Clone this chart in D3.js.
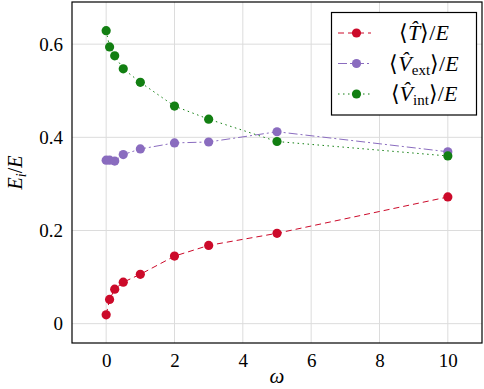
<!DOCTYPE html>
<html>
<head>
<meta charset="utf-8">
<script src="https://cdn.jsdelivr.net/npm/d3@7"></script>
<style>
  body { margin: 0; background: #fff; }
</style>
</head>
<body>
<svg id="chart" width="484" height="389"></svg>
<script>
// data
var omega = [0, 0.1, 0.25, 0.5, 1, 2, 3, 5, 10]
var kinetic = [0.019, 0.052, 0.074, 0.089, 0.106, 0.145, 0.168, 0.194, 0.272]
var vExt = [0.351, 0.351, 0.349, 0.363, 0.375, 0.388, 0.390, 0.412, 0.369]
var vInt = [0.629, 0.594, 0.575, 0.547, 0.518, 0.467, 0.439, 0.391, 0.360]
var xTicks = [0, 2, 4, 6, 8, 10]
var yTicks = [0, 0.2, 0.4, 0.6]

var series = [
  { name: 'T', sub: null, values: kinetic, color: '#cc0a2a', dash: '6,4' },
  { name: 'V', sub: 'ext', values: vExt, color: '#8a6cbf', dash: '9,3,2,3' },
  { name: 'V', sub: 'int', values: vInt, color: '#127f12', dash: '1.5,3.5' }
]

var FONT = 'Liberation Serif'
var svg = d3.select('#chart')
var pLeft = 72, pRight = 482, pTop = 2, pBottom = 343

var x = d3.scaleLinear().domain([-1, 11]).range([pLeft, pRight])
var y = d3.scaleLinear().domain([-0.0415, 0.6905]).range([pBottom, pTop])

// grid
svg.append('g').selectAll('line').data(xTicks).enter().append('line')
  .attr('x1', d => x(d)).attr('x2', d => x(d))
  .attr('y1', pTop).attr('y2', pBottom)
  .attr('stroke', '#dcdcdc').attr('stroke-width', 1)
svg.append('g').selectAll('line').data(yTicks).enter().append('line')
  .attr('y1', d => y(d)).attr('y2', d => y(d))
  .attr('x1', pLeft).attr('x2', pRight)
  .attr('stroke', '#dcdcdc').attr('stroke-width', 1)

// tick labels via d3 axes, no domain lines
svg.append('g')
  .attr('transform', 'translate(0,' + pBottom + ')')
  .call(d3.axisBottom(x).tickValues(xTicks).tickSize(0).tickPadding(11).tickFormat(d3.format('d')))
svg.append('g')
  .attr('transform', 'translate(' + pLeft + ',0)')
  .call(d3.axisLeft(y).tickValues(yTicks).tickSize(0).tickPadding(9).tickFormat(d => d === 0 ? '0' : d3.format('.1f')(d)))
svg.selectAll('.domain').remove()
svg.selectAll('.tick text').attr('fill', '#000').style('font-size', '19px')

// lines + markers
var line = d3.line().x((d, i) => x(omega[i])).y(d => y(d))
series.forEach(s => {
  svg.append('path')
    .attr('d', line(s.values))
    .attr('fill', 'none')
    .attr('stroke', s.color)
    .attr('stroke-width', 1)
    .attr('stroke-dasharray', s.dash)
  svg.append('g').selectAll('circle').data(s.values).enter().append('circle')
    .attr('cx', (d, i) => x(omega[i]))
    .attr('cy', d => y(d))
    .attr('r', 4.6)
    .attr('fill', s.color)
})

// frame
svg.append('rect')
  .attr('x', pLeft).attr('y', pTop)
  .attr('width', pRight - pLeft).attr('height', pBottom - pTop)
  .attr('fill', 'none').attr('stroke', '#000').attr('stroke-width', 1.2)

// axis titles
svg.append('text')
  .attr('x', (pLeft + pRight) / 2).attr('y', 383)
  .attr('text-anchor', 'middle').style('font-size', '21px').style('font-style', 'italic')
  .text('ω')
var yt = svg.append('text')
  .attr('transform', 'translate(22,' + ((pTop + pBottom) / 2) + ') rotate(-90)')
  .attr('text-anchor', 'middle').style('font-size', '20px').style('font-style', 'italic')
yt.append('tspan').text('E')
yt.append('tspan').style('font-size', '14px').attr('dy', 4).text('i')
yt.append('tspan').attr('dy', -4).style('font-style', 'normal').text('/')
yt.append('tspan').text('E')

// legend
var lg = svg.append('g')
lg.append('rect')
  .attr('x', 331.5).attr('y', 12.5).attr('width', 145).attr('height', 102.5)
  .attr('fill', '#fff').attr('stroke', '#000').attr('stroke-width', 1.2)
series.forEach((s, i) => {
  var ly = 33 + i * 30.5
  lg.append('line')
    .attr('x1', 338).attr('x2', 371).attr('y1', ly).attr('y2', ly)
    .attr('stroke', s.color).attr('stroke-width', 1).attr('stroke-dasharray', s.dash)
  lg.append('circle').attr('cx', 356.5).attr('cy', ly).attr('r', 4.6).attr('fill', s.color)
  var t = lg.append('text')
    .attr('x', 424).attr('y', ly + 7).attr('text-anchor', 'middle')
    .style('font-size', '22px')
  t.append('tspan').text('⟨')
  t.append('tspan').style('font-style', 'italic').text(s.name + '\u0302')
  if (s.sub) {
    t.append('tspan').style('font-size', '15px').attr('dy', 4).text(s.sub)
    t.append('tspan').attr('dy', -4).text('⟩/')
  } else {
    t.append('tspan').text('⟩/')
  }
  t.append('tspan').style('font-style', 'italic').text('E')
})

// serif everywhere, as inline style
svg.selectAll('text').style('font-family', FONT)
</script>
</body>
</html>
